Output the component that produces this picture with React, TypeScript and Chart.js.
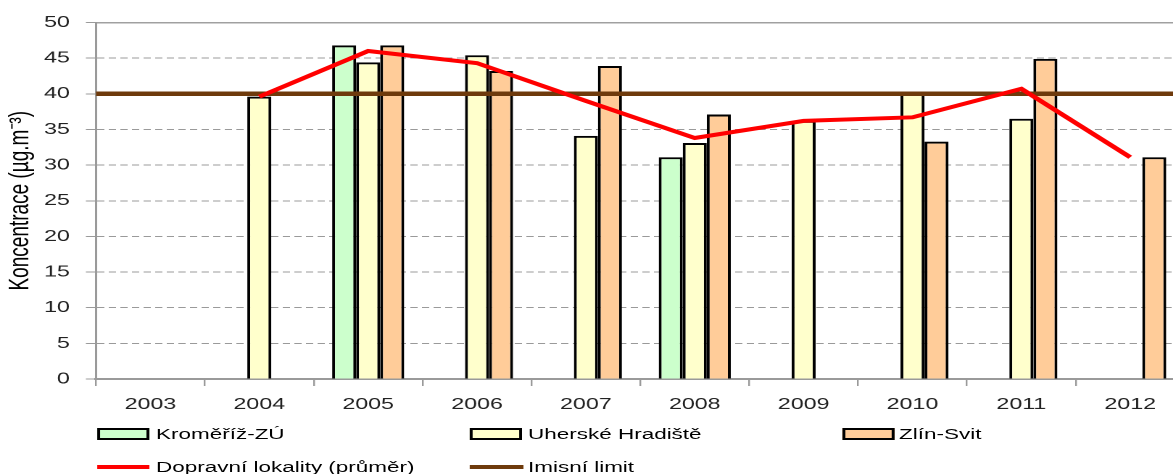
import React, { useEffect, useRef } from "react";
import { Chart, registerables } from "chart.js";

Chart.register(...registerables);

const years = ["2003", "2004", "2005", "2006", "2007", "2008", "2009", "2010", "2011", "2012"];
const kromeriz = [null, null, 46.8, null, null, 31.1, null, null, null, null];
const uhHradiste = [null, 39.6, 44.4, 45.4, 34.1, 33.1, 36.2, 40.0, 36.5, null];
const zlinSvit = [null, null, 46.8, 43.2, 43.9, 37.1, null, 33.3, 44.9, 31.1];
const prumer = [null, 39.6, 46.0, 44.3, 39.0, 33.8, 36.2, 36.7, 40.7, 31.1];
const imisniLimit = 40;
const yTicks = [0, 5, 10, 15, 20, 25, 30, 35, 40, 45, 50];

const SX = 1.45;
const W = 817;
const H = 474;
const FONT = "'Liberation Sans', Arial, sans-serif";
const LIMIT_COLOR = "#6E3A0C";

// Draws the "Imisní limit" line across the full plot width, using the y scale,
// right before the average line so that it sits above the bars and below the red line.
const limitLinePlugin = {
  id: "limitLine",
  beforeDatasetDraw(chart: any, args: any) {
    if (args.meta.type !== "line") return;
    const { ctx, chartArea, scales } = chart;
    const y = scales.y.getPixelForValue(imisniLimit);
    ctx.save();
    ctx.beginPath();
    ctx.strokeStyle = LIMIT_COLOR;
    ctx.lineWidth = 4.5;
    ctx.moveTo(chartArea.left, y);
    ctx.lineTo(chartArea.right, y);
    ctx.stroke();
    ctx.restore();
  },
};

export default function App() {
  const ref = useRef<HTMLCanvasElement | null>(null);

  useEffect(() => {
    if (!ref.current) return;
    const barCommon = {
      borderColor: "#000000",
      borderWidth: 2,
      categoryPercentage: 0.662,
      barPercentage: 1,
      order: 2,
    };
    const chart = new Chart(ref.current, {
      type: "bar",
      plugins: [limitLinePlugin],
      data: {
        labels: years,
        datasets: [
          { ...barCommon, label: "Kroměříž-ZÚ", data: kromeriz, backgroundColor: "#CCFFCC" },
          { ...barCommon, label: "Uherské Hradiště", data: uhHradiste, backgroundColor: "#FFFFCC" },
          { ...barCommon, label: "Zlín-Svit", data: zlinSvit, backgroundColor: "#FFCC99" },
          {
            type: "line",
            label: "Dopravní lokality (průměr)",
            data: prumer,
            borderColor: "#FF0000",
            borderWidth: 4,
            pointRadius: 0,
            tension: 0,
            order: 0,
          } as any,
        ],
      },
      options: {
        responsive: false,
        animation: false,
        devicePixelRatio: 2,
        layout: { padding: { top: 22.5, left: 0, right: 0, bottom: 0 } },
        plugins: {
          legend: { display: false },
          tooltip: { enabled: false },
        },
        scales: {
          x: {
            type: "category",
            offset: true,
            grid: {
              display: true,
              drawOnChartArea: false,
              drawTicks: true,
              tickLength: 7,
              color: "#9a9a9a",
              tickColor: "#9a9a9a",
              lineWidth: 1.2,
              offset: true,
            },
            border: { display: true, color: "#9a9a9a", width: 2 },
            ticks: {
              color: "#222",
              font: { family: FONT, size: 16 },
              padding: 9,
              maxRotation: 0,
              autoSkip: false,
            },
            afterFit: (s: any) => {
              s.height = 95;
            },
          },
          xTop: {
            type: "linear",
            position: "top",
            min: 0,
            max: 1,
            offset: false,
            display: true,
            grid: { display: false, drawTicks: false, offset: false },
            ticks: { display: false },
            border: { display: true, color: "#a0a0a0", width: 1.5 },
            afterFit: (s: any) => {
              s.height = 0;
            },
          },
          y: {
            min: 0,
            max: 50,
            afterBuildTicks: (s: any) => {
              s.ticks = yTicks.map((v) => ({ value: v }));
            },
            grid: {
              color: (c: any) => (c.tick && c.tick.value === 50 ? "rgba(0,0,0,0)" : "#9a9a9a"),
              tickColor: "#9a9a9a",
              lineWidth: 1,
              drawTicks: true,
              tickLength: 7,
            },
            border: { display: true, color: "#9a9a9a", width: 1.5, dash: [5, 3] },
            ticks: {
              color: "#222",
              font: { family: FONT, size: 16 },
              padding: 11,
            },
            title: {
              display: true,
              text: "Koncentrace (µg.m⁻³)",
              color: "#000",
              font: { family: FONT, size: 19, weight: "normal" },
              padding: { top: 3, bottom: 0 },
            },
            afterFit: (s: any) => {
              s.width = 96 / SX;
            },
          },
        },
      },
    });
    return () => chart.destroy();
  }, []);

  const legendText: React.CSSProperties = {
    position: "absolute",
    fontFamily: FONT,
    fontSize: 15.5,
    color: "#000",
    lineHeight: "20px",
    whiteSpace: "nowrap",
  };
  const box = (left: number, color: string, top: number): React.CSSProperties => ({
    position: "absolute",
    left: left / SX,
    top,
    width: 52 / SX,
    height: 12,
    background: color,
    border: "2px solid #000",
    boxSizing: "border-box",
  });
  const line = (left: number, color: string, top: number): React.CSSProperties => ({
    position: "absolute",
    left: left / SX,
    top,
    width: 53 / SX,
    height: 4,
    background: color,
  });

  return (
    <div
      style={{
        position: "fixed",
        left: 0,
        top: 0,
        width: 1173,
        height: 474,
        overflow: "hidden",
        background: "#fff",
      }}
    >
      <div
        style={{
          position: "absolute",
          left: 0,
          top: 0,
          width: W,
          height: H,
          transform: `scaleX(${SX})`,
          transformOrigin: "0 0",
        }}
      >
        <canvas ref={ref} width={W} height={H} style={{ display: "block" }} />
        <div style={box(97, "#CCFFCC", 428)} />
        <div style={{ ...legendText, left: 156 / SX, top: 424 }}>Kroměříž-ZÚ</div>
        <div style={box(470, "#FFFFCC", 428)} />
        <div style={{ ...legendText, left: 528 / SX, top: 424 }}>Uherské Hradiště</div>
        <div style={box(842, "#FFCC99", 428)} />
        <div style={{ ...legendText, left: 899 / SX, top: 424 }}>Zlín-Svit</div>
        <div style={line(97, "#FF0000", 465)} />
        <div style={{ ...legendText, left: 156 / SX, top: 457 }}>Dopravní lokality (průměr)</div>
        <div style={line(470, LIMIT_COLOR, 465)} />
        <div style={{ ...legendText, left: 528 / SX, top: 457 }}>Imisní limit</div>
      </div>
    </div>
  );
}
